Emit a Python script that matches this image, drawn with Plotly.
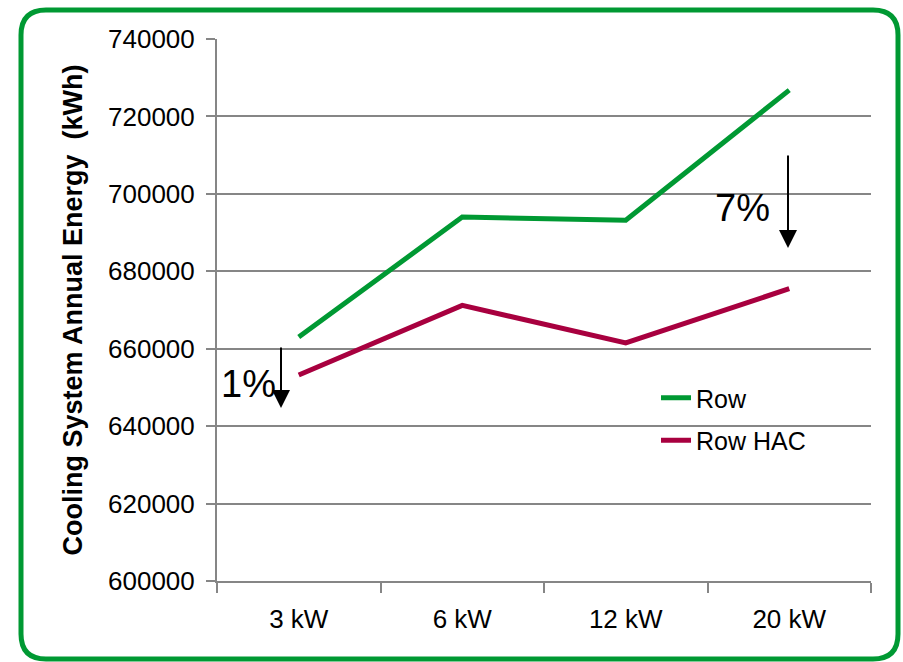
import plotly.graph_objects as go

categories = ["3 kW", "6 kW", "12 kW", "20 kW"]
row_values = [663000, 694000, 693200, 726800]
row_hac_values = [653200, 671200, 661500, 675500]
y_ticks = [600000, 620000, 640000, 660000, 680000, 700000, 720000, 740000]

W, H = 903, 662
L, R, T, B = 217, 32, 39, 81
PW, PH = W - L - R, H - T - B

def px(x):
    return (x - L) / PW

def py(y):
    return (H - B - y) / PH

FONT = "Liberation Sans, Arial, sans-serif"
GREEN = "#009933"
CRIMSON = "#A8003F"
GRID = "#868686"

fig = go.Figure()
fig.add_trace(go.Scatter(x=categories, y=row_values, mode="lines", name="Row",
                         line=dict(color=GREEN, width=5), legendgroup="a"))
fig.add_trace(go.Scatter(x=categories, y=row_hac_values, mode="lines", name="Row HAC",
                         line=dict(color=CRIMSON, width=5), legendgroup="b"))

# rounded border
x0, x1, y0, y1, r = 21, 898, 10, 659, 25
path = (f"M {px(x0+r)},{py(y0)} L {px(x1-r)},{py(y0)} Q {px(x1)},{py(y0)} {px(x1)},{py(y0+r)} "
        f"L {px(x1)},{py(y1-r)} Q {px(x1)},{py(y1)} {px(x1-r)},{py(y1)} "
        f"L {px(x0+r)},{py(y1)} Q {px(x0)},{py(y1)} {px(x0)},{py(y1-r)} "
        f"L {px(x0)},{py(y0+r)} Q {px(x0)},{py(y0)} {px(x0+r)},{py(y0)} Z")
fig.add_shape(type="path", path=path, xref="paper", yref="paper",
              line=dict(color=GREEN, width=5), layer="above")

annotations = [
    dict(x=px(281), y=py(408), xref="paper", yref="paper", ax=0, ay=-62, text="",
         showarrow=True, arrowhead=2, arrowsize=1.8, arrowwidth=2, arrowcolor="black"),
    dict(x=px(788), y=py(248), xref="paper", yref="paper", ax=0, ay=-94, text="",
         showarrow=True, arrowhead=2, arrowsize=1.8, arrowwidth=2, arrowcolor="black"),
    dict(x=px(248), y=py(384), xref="paper", yref="paper", text="1%", showarrow=False,
         xanchor="center", yanchor="middle",
         font=dict(family=FONT, size=38, color="black")),
    dict(x=px(742), y=py(208), xref="paper", yref="paper", text="7%", showarrow=False,
         xanchor="center", yanchor="middle",
         font=dict(family=FONT, size=38, color="black")),
]

fig.update_layout(
    width=W, height=H,
    margin=dict(l=L, r=R, t=T, b=B, autoexpand=False),
    paper_bgcolor="white", plot_bgcolor="white",
    font=dict(family=FONT, size=26, color="black"),
    showlegend=True,
    legend=dict(x=px(656), y=py(375), xanchor="left", yanchor="top",
                font=dict(family=FONT, size=25, color="black"),
                bgcolor="rgba(0,0,0,0)", traceorder="grouped", tracegroupgap=7),
    annotations=annotations,
    xaxis=dict(type="category", showgrid=False, showline=True, linecolor=GRID, linewidth=2,
               ticks="outside", tickson="boundaries", ticklen=10, tickwidth=2, tickcolor=GRID,
               tickfont=dict(family=FONT, size=26, color="black"), ticklabelstandoff=14,
               range=[-0.5, 3.5]),
    yaxis=dict(range=[600000, 740000], tickvals=y_ticks, ticktext=[str(v) for v in y_ticks],
               showgrid=True, gridcolor=GRID, gridwidth=2, zeroline=False,
               showline=True, linecolor=GRID, linewidth=2,
               ticks="outside", ticklen=9, tickwidth=2, tickcolor=GRID,
               tickfont=dict(family=FONT, size=26, color="black"), ticklabelstandoff=6,
               title=dict(text="Cooling System Annual Energy  (kWh)", standoff=18,
                          font=dict(family=FONT, size=27, color="black", weight="bold"))),
)

fig.write_html("out.html", config={"displayModeBar": False},
               post_script="document.body.style.margin='0px';")
